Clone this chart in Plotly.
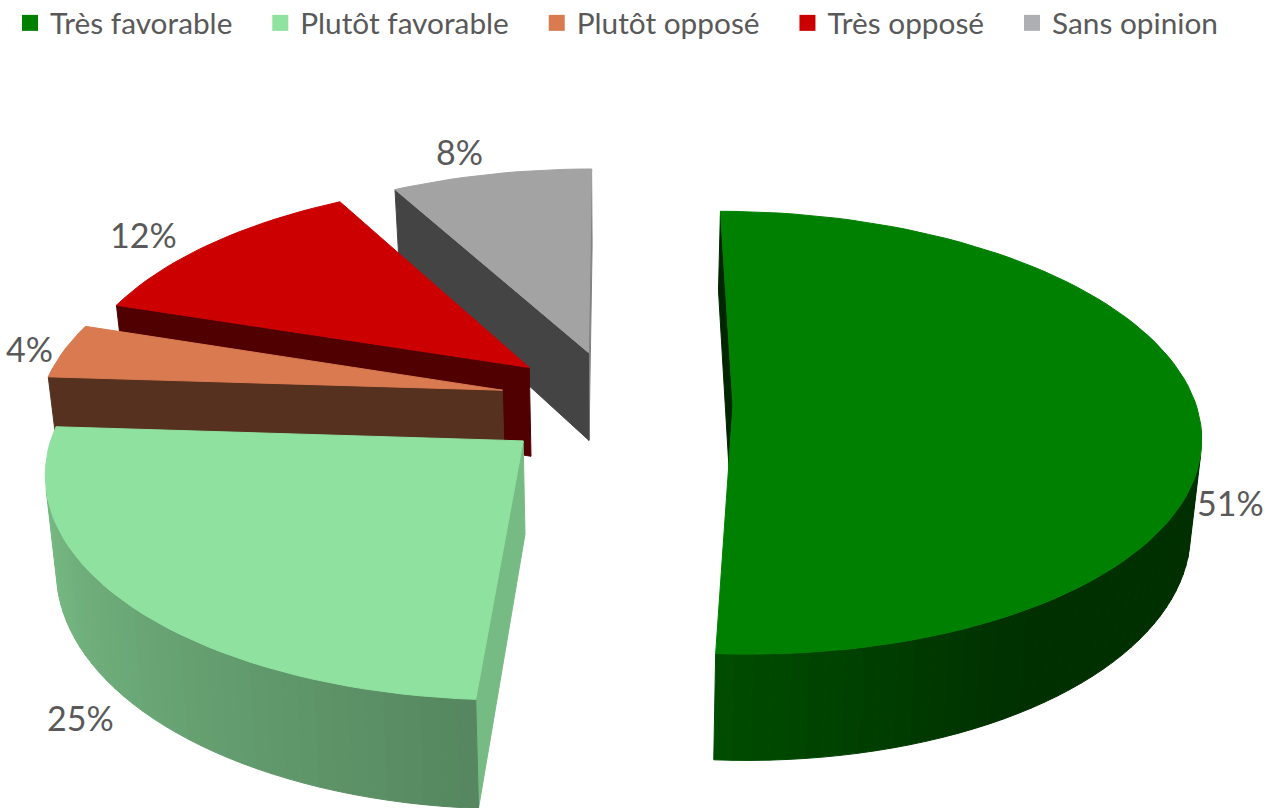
import numpy as np
import plotly.graph_objects as go

# Chart data
categories = ["Très favorable", "Plutôt favorable", "Plutôt opposé", "Très opposé", "Sans opinion"]
values = [51, 25, 4, 12, 8]

# Colours
legend_colors = ["#008000", "#90E2A0", "#D97A50", "#CC0000", "#AEAFB2"]
top_colors = ["#008000", "#8FE19F", "#D97A50", "#CC0000", "#A3A3A3"]
text_color = "#595959"

# Shade of the two flat side faces of each slice (start angle, end angle)
face_shades = [(0.30, 0.50), (0.83, 0.83), (0.40, 0.40), (0.39, 0.40), (0.42, 0.80)]

# Label placement around each slice: radius factor and angle offset in degrees
label_radius = [1.09, 1.32, 1.078, 1.165, 1.155]
label_shift = [21.0, -12.0, -0.2, -3.2, -2.4]

# Small correction of the explosion per slice
nudge_x = [0.002, -0.018, -0.012, -0.008, -0.006]
nudge_y = [0, -0.004, 0.018, 0.015, 0.006]

# Exploded pie seen in perspective, two planes (top and bottom of the disc)
PULL = 0.245
PERSP = 0.122
CX = 618.5
TOP = dict(sx=463, sy=217.7, cy=404)
BOTTOM = dict(sx=454, sy=231, cy=495)


def project(x, y, plane):
    w = 1 + PERSP * y
    return CX + plane["sx"] * x / w, plane["cy"] - plane["sy"] * y / w


def shade(hex_color, factor):
    r, g, b = (int(hex_color[i:i + 2], 16) for i in (1, 3, 5))
    return f"rgb({r * factor:.0f},{g * factor:.0f},{b * factor:.0f})"


def rim_shade(angle):
    return float(np.interp(angle, [90, 150, 184, 230, 274], [0.36, 0.38, 0.60, 0.75, 0.87]))


def polygon(fig, xs, ys, color):
    fig.add_trace(go.Scatter(
        x=list(xs) + [xs[0]], y=list(ys) + [ys[0]], mode="lines", fill="toself",
        fillcolor=color, line=dict(color=color, width=1),
        hoverinfo="skip", showlegend=False,
    ))


def add_wall(walls, p, q, color):
    # p and q follow the slice outline clockwise seen from above
    corners = [project(*p, TOP), project(*q, TOP), project(*q, BOTTOM), project(*p, BOTTOM)]
    xs = [c[0] for c in corners]
    ys = [c[1] for c in corners]
    area = sum(xs[i] * ys[(i + 1) % 4] - xs[(i + 1) % 4] * ys[i] for i in range(4))
    if area < 0:  # only faces turned to the viewer
        walls.append(((p[1] + q[1]) / 2, xs, ys, color))


fig = go.Figure()
total = sum(values)
starts = np.cumsum([0] + values[:-1]) / total * 360
ends = np.cumsum(values) / total * 360
annotations = []
slices = []

for i in range(len(values)):
    a0, a1 = starts[i], ends[i]
    mid = np.radians((a0 + a1) / 2)
    ax, ay = PULL * np.sin(mid) + nudge_x[i], PULL * np.cos(mid) + nudge_y[i]
    angles = np.linspace(a0, a1, max(int((a1 - a0) / 2), 2) + 1)
    rim = [(ax + np.sin(np.radians(t)), ay + np.cos(np.radians(t))) for t in angles]

    walls = []
    add_wall(walls, (ax, ay), rim[0], shade(top_colors[i], face_shades[i][0]))
    add_wall(walls, rim[-1], (ax, ay), shade(top_colors[i], face_shades[i][1]))
    for j in range(len(rim) - 1):
        color = shade(top_colors[i], rim_shade((angles[j] + angles[j + 1]) / 2))
        add_wall(walls, rim[j], rim[j + 1], color)
    walls.sort(key=lambda w: -w[0])

    pts = [project(ax, ay, TOP)] + [project(x, y, TOP) for x, y in rim]
    slices.append((walls, [p[0] for p in pts], [p[1] for p in pts], top_colors[i]))

    lab = np.radians((a0 + a1) / 2 + label_shift[i])
    lx, ly = project(ax + label_radius[i] * np.sin(lab), ay + label_radius[i] * np.cos(lab), TOP)
    annotations.append(dict(
        x=lx, y=ly, xref="x", yref="y", text=f"{values[i]}%", showarrow=False,
        font=dict(family="Lato", size=34, color=text_color),
    ))

# Back slices first, the big green one last
for walls, xs, ys, color in [slices[k] for k in (4, 3, 2, 1, 0)]:
    for _, wx, wy, wc in walls:
        polygon(fig, wx, wy, wc)
    polygon(fig, xs, ys, color)

# Legend entries, wider gap through trailing no-break spaces
for name, color in zip(categories, legend_colors):
    fig.add_trace(go.Scatter(
        x=[None], y=[None], mode="markers", name=name + "\u00a0" * 3,
        marker=dict(symbol="square", size=18, color=color),
    ))

fig.update_layout(
    width=1265, height=808,
    margin=dict(l=0, r=0, t=0, b=0, autoexpand=False),
    paper_bgcolor="white", plot_bgcolor="white",
    xaxis=dict(range=[0, 1265], visible=False, fixedrange=True),
    yaxis=dict(range=[808, 0], visible=False, fixedrange=True),
    annotations=annotations,
    showlegend=True,
    legend=dict(
        orientation="h", x=10 / 1265, xanchor="left", y=1 + 3 / 808, yanchor="top",
        font=dict(family="Lato", size=29.8, color=text_color),
        itemclick=False, itemdoubleclick=False,
        bgcolor="rgba(0,0,0,0)",
    ),
)

# Drop the default page margin so the figure fills the window
fig.write_html("out.html", config={"displayModeBar": False},
               post_script="document.body.style.margin = '0';")
